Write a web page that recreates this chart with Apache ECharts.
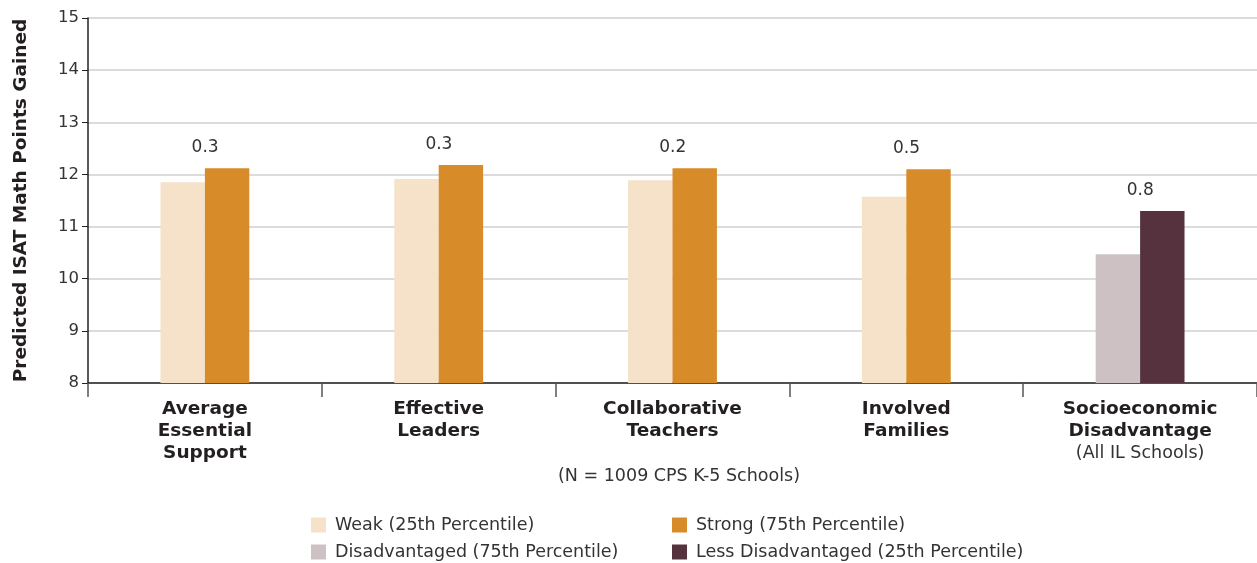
<!DOCTYPE html>
<html>
<head>
<meta charset="utf-8">
<script src="https://cdn.jsdelivr.net/npm/echarts@6/dist/echarts.min.js"></script>
<style>
  html, body { margin: 0; padding: 0; background: #fff; }
  #chart { width: 1257px; height: 563px; }
</style>
</head>
<body>
<div id="chart"></div>
<script>
// Category labels (bold name lines, plus an optional plain note line)
const categories = [
  'Average\nEssential\nSupport',
  'Effective\nLeaders',
  'Collaborative\nTeachers',
  'Involved\nFamilies',
  'Socioeconomic\nDisadvantage'
];
const categoryNotes = ['', '', '', '', '(All IL Schools)'];

// Predicted ISAT math points gained
const weak = [11.85, 11.91, 11.89, 11.57, '-'];
const strong = [12.12, 12.18, 12.12, 12.10, '-'];
const disadvantaged = ['-', '-', '-', '-', 10.47];
const lessDisadvantaged = ['-', '-', '-', '-', 11.30];

// Gap between the two bars of each pair
const gapLabels = ['0.3', '0.3', '0.2', '0.5', '0.8'];

const yTicks = [8, 9, 10, 11, 12, 13, 14, 15];

const FONT = '"DejaVu Sans", "Open Sans", sans-serif';
const TEXT = '#231f20';
const SOFT = '#333';

const chart = echarts.init(document.getElementById('chart'));

const gapLabel = {
  show: true,
  position: 'top',
  distance: 12,
  offset: [-22, 0],
  fontFamily: FONT,
  fontSize: 17,
  color: SOFT,
  formatter: p => gapLabels[p.dataIndex]
};

function legendAt(name, left, top) {
  return {
    data: [name],
    left: left,
    top: top,
    icon: 'rect',
    itemWidth: 15,
    itemHeight: 15,
    itemGap: 8,
    textStyle: { fontFamily: FONT, fontSize: 17.5, color: SOFT, padding: [0, 0, 0, 4] }
  };
}

chart.setOption({
  animation: false,
  grid: { left: 88, right: 0, top: 18, bottom: 180, outerBoundsMode: 'none', containLabel: false },
  title: {
    text: '(N = 1009 CPS K-5 Schools)',
    left: 674, top: 462, textAlign: 'center',
    textStyle: { fontFamily: FONT, fontSize: 17.5, fontWeight: 'normal', color: SOFT }
  },
  legend: [
    legendAt('Weak (25th Percentile)', 306, 511),
    legendAt('Strong (75th Percentile)', 667, 511),
    legendAt('Disadvantaged (75th Percentile)', 306, 538),
    legendAt('Less Disadvantaged (25th Percentile)', 667, 538)
  ],
  xAxis: {
    type: 'category',
    data: categories,
    axisLine: { lineStyle: { color: '#222', width: 1.5 } },
    axisTick: { show: true, length: 14, lineStyle: { color: '#555', width: 1.5 } },
    axisLabel: {
      margin: 15,
      formatter: (v, i) => {
        const bold = v.split('\n').map(s => '{b|' + s + '}').join('\n');
        return categoryNotes[i] ? bold + '\n{n|' + categoryNotes[i] + '}' : bold;
      },
      rich: {
        b: { fontFamily: FONT, fontSize: 18.5, fontWeight: 'bold', color: TEXT, lineHeight: 22 },
        n: { fontFamily: FONT, fontSize: 17.5, color: SOFT, lineHeight: 22 }
      }
    }
  },
  yAxis: {
    type: 'value',
    min: yTicks[0],
    max: yTicks[yTicks.length - 1],
    interval: 1,
    name: 'Predicted ISAT Math Points Gained',
    nameLocation: 'middle',
    nameGap: 57,
    nameTextStyle: { fontFamily: FONT, fontSize: 18.5, fontWeight: 'bold', color: TEXT },
    axisLine: { show: true, lineStyle: { color: '#222', width: 1.5 } },
    axisTick: { show: true, length: 6, lineStyle: { color: '#222' } },
    axisLabel: { fontFamily: FONT, fontSize: 16.5, color: SOFT, margin: 9 },
    splitLine: { lineStyle: { color: '#dcdcdc', width: 2 } }
  },
  series: [
    {
      name: 'Weak (25th Percentile)', type: 'bar', stack: 'low',
      data: weak, itemStyle: { color: '#f5e2c9' },
      barGap: '0%', barCategoryGap: '62%'
    },
    {
      name: 'Strong (75th Percentile)', type: 'bar', stack: 'high',
      data: strong, itemStyle: { color: '#d88c29' }, label: gapLabel
    },
    {
      name: 'Disadvantaged (75th Percentile)', type: 'bar', stack: 'low',
      data: disadvantaged, itemStyle: { color: '#cdc1c4' }
    },
    {
      name: 'Less Disadvantaged (25th Percentile)', type: 'bar', stack: 'high',
      data: lessDisadvantaged, itemStyle: { color: '#56323f' }, label: gapLabel
    }
  ]
});
</script>
</body>
</html>
